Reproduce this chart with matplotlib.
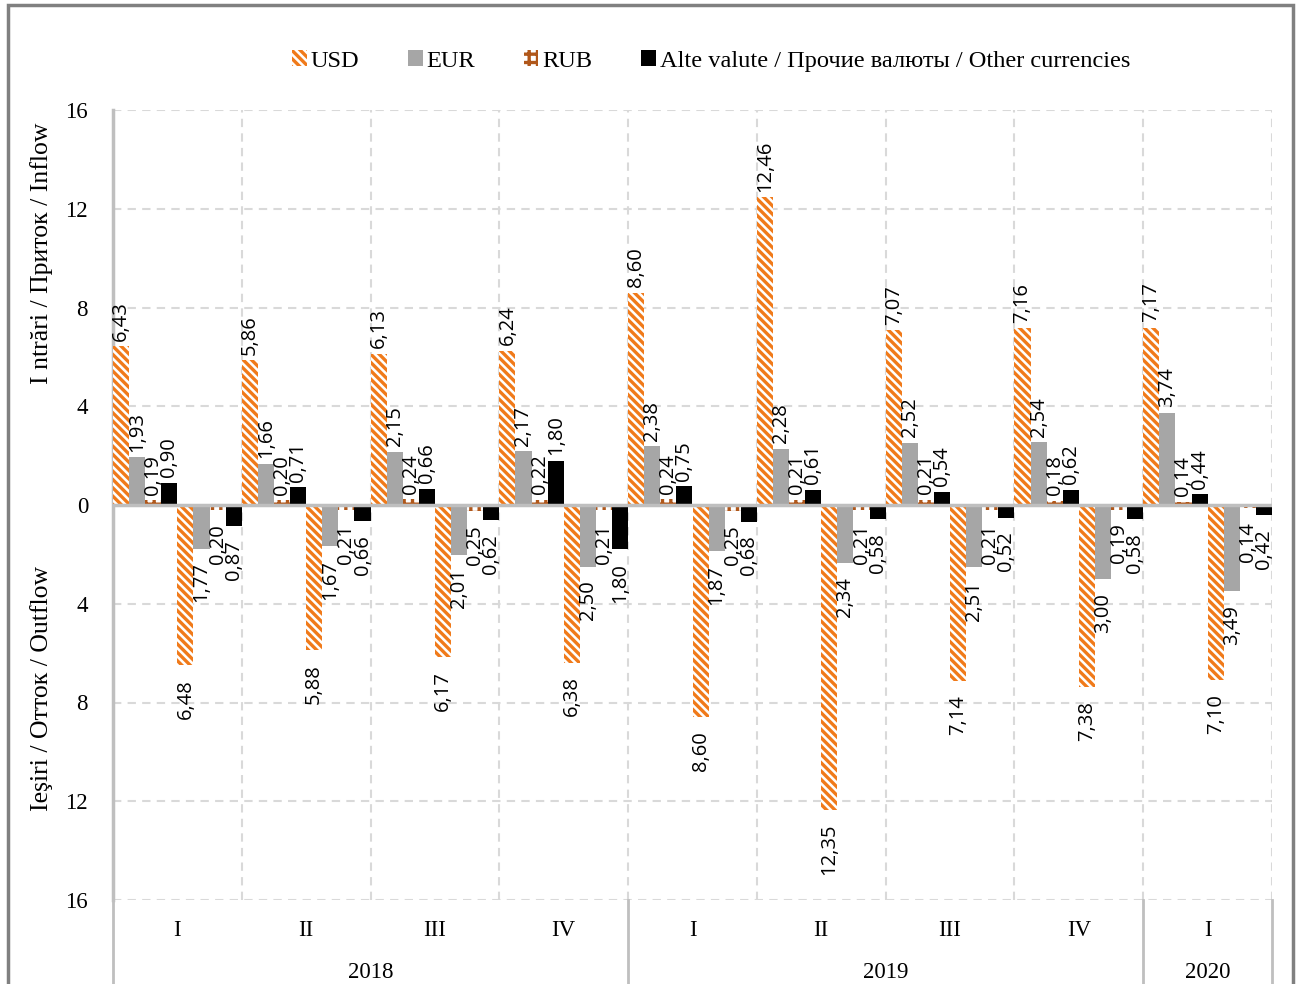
import numpy as np
import matplotlib.pyplot as plt
from matplotlib.patches import Patch, Rectangle

quarters = ['I', 'II', 'III', 'IV', 'I', 'II', 'III', 'IV', 'I']
years = ['2018', '2019', '2020']
year_spans = [(0, 4), (4, 8), (8, 9)]

# inflow
usd_in = [6.43, 5.86, 6.13, 6.24, 8.60, 12.46, 7.07, 7.16, 7.17]
eur_in = [1.93, 1.66, 2.15, 2.17, 2.38, 2.28, 2.52, 2.54, 3.74]
rub_in = [0.19, 0.20, 0.24, 0.22, 0.24, 0.21, 0.21, 0.18, 0.14]
oth_in = [0.90, 0.71, 0.66, 1.80, 0.75, 0.61, 0.54, 0.62, 0.44]
# outflow
usd_out = [6.48, 5.88, 6.17, 6.38, 8.60, 12.35, 7.14, 7.38, 7.10]
eur_out = [1.77, 1.67, 2.01, 2.50, 1.87, 2.34, 2.51, 3.00, 3.49]
rub_out = [0.20, 0.21, 0.25, 0.21, 0.25, 0.21, 0.21, 0.19, 0.14]
oth_out = [0.87, 0.66, 0.62, 1.80, 0.68, 0.58, 0.52, 0.58, 0.42]

ORANGE = '#F07A1A'
GREY = '#A6A6A6'
RUBC = '#B0571A'
SERIF = 'Liberation Serif'
SANS = 'Open Sans'

plt.rcParams['hatch.linewidth'] = 2.4

fig = plt.figure(figsize=(12.98, 9.84), dpi=100)
ax = fig.add_axes([113/1298, 1 - 900/984, (1272-113)/1298, 790/984])

styles = [
    dict(facecolor='white', edgecolor=ORANGE, hatch='\\\\\\\\', linewidth=0),
    dict(facecolor=GREY, edgecolor=GREY, linewidth=0),
    dict(facecolor='white', edgecolor=RUBC, hatch='++', linewidth=0),
    dict(facecolor='black', edgecolor='black', linewidth=0),
]

x = np.arange(len(quarters))
w = 1 / 8
series = [(usd_in, 1), (eur_in, 1), (rub_in, 1), (oth_in, 1),
          (usd_out, -1), (eur_out, -1), (rub_out, -1), (oth_out, -1)]

for k, (vals, sign) in enumerate(series):
    pos = x + (k + 0.5) * w
    v = sign * np.array(vals)
    ax.bar(pos, v, width=w, zorder=3, **styles[k % 4])
    for xp, val in zip(pos, vals):
        txt = f'{val:.2f}'.replace('.', ',')
        if sign > 0:
            ax.annotate(txt, (xp, val), xytext=(0, 4), textcoords='offset points',
                        rotation=90, ha='center', va='bottom', fontsize=14.5,
                        family=SANS, zorder=5)
        else:
            ax.annotate(txt, (xp, -val), xytext=(0, -10), textcoords='offset points',
                        rotation=90, ha='center', va='top', fontsize=14.5,
                        family=SANS, zorder=5)

ax.set_xlim(0, 9)
ax.set_ylim(-16, 16)
yt = np.arange(-16, 17, 4)
ax.set_yticks(yt)
ax.set_yticklabels([str(abs(t)) for t in yt], family=SERIF, fontsize=16.5)
ax.tick_params(axis='y', length=0, pad=18)
ax.set_xticks([])

for t in yt:
    if t != 0:
        ax.axhline(t, color='#D9D9D9', lw=1.5, ls=(0, (4, 3)), zorder=1)
for b in range(1, 10):
    ax.axvline(b, color='#D9D9D9', lw=1.5, ls=(0, (4, 3)), zorder=1)
ax.axhline(0, color='#BFBFBF', lw=2.5, zorder=4)

for s in ['top', 'right', 'bottom']:
    ax.spines[s].set_visible(False)
ax.spines['left'].set_color('#BFBFBF')
ax.spines['left'].set_linewidth(2.5)

# multi-level category labels
trans = ax.get_xaxis_transform()
for i, q in enumerate(quarters):
    ax.text(i + 0.5, -30/790, q, transform=trans, ha='center', va='center',
            family=SERIF, fontsize=16.5)
for yr, (a, b) in zip(years, year_spans):
    ax.text((a + b) / 2, -72/790, yr, transform=trans, ha='center', va='center',
            family=SERIF, fontsize=16.5)
for b in [0, 4, 8, 9]:
    ax.plot([b, b], [0, -90/790], transform=trans, color='#BFBFBF', lw=2,
            clip_on=False)

# axis titles
fig.text(42/1298, 1 - 253/984, 'I ntrări / Приток / Inflow', rotation=90,
         ha='center', va='center', family=SERIF, fontsize=18.5)
fig.text(42/1298, 1 - 688/984, 'Ieşiri / Отток / Outflow', rotation=90,
         ha='center', va='center', family=SERIF, fontsize=18.5)

# legend
handles = [Patch(**styles[0]), Patch(**styles[1]), Patch(**styles[2]), Patch(**styles[3])]
labels = ['USD', 'EUR', 'RUB', 'Alte valute / Прочие валюты / Other currencies']
fig.legend(handles, labels, loc='center', bbox_to_anchor=(711/1298, 1 - 61/984),
           ncol=4, frameon=False, prop={'family': SERIF, 'size': 17.6},
           handlelength=0.6, handleheight=0.6, handletextpad=0.15, columnspacing=2.0)

# outer frame
fig.patches.append(Rectangle((8/1298, -0.02), (1293-8)/1298, 1.02 - 5/984,
                             transform=fig.transFigure, fill=False,
                             edgecolor='#808080', lw=2.5))

fig.savefig('out.png', dpi=100)
